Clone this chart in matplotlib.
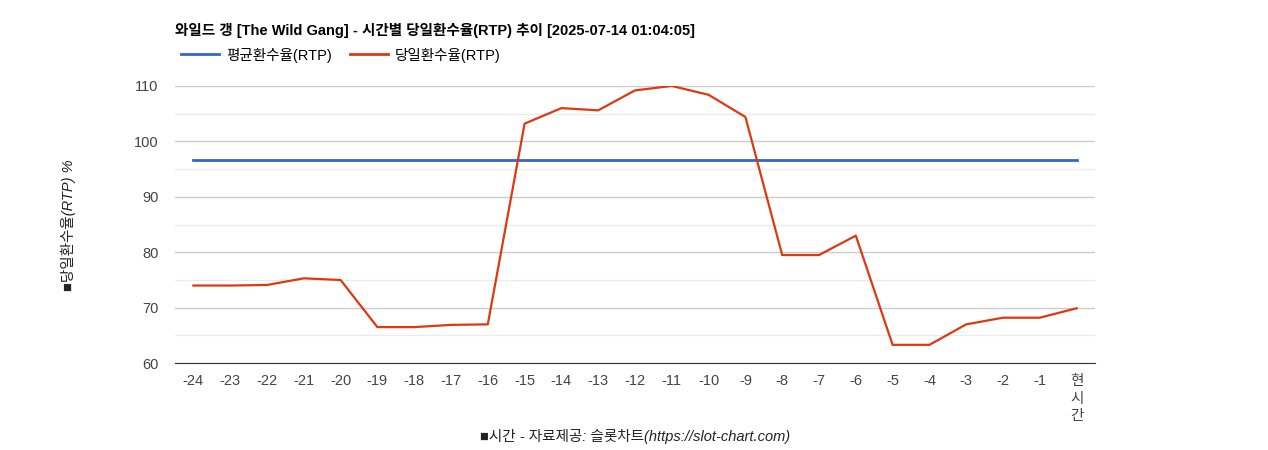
import matplotlib
matplotlib.use("Agg")
import matplotlib.pyplot as plt
from matplotlib.lines import Line2D
from matplotlib import font_manager as fm

cjk = [f.name for f in fm.fontManager.ttflist if 'CJK' in f.name]
pref = [n for n in ['Noto Sans CJK KR', 'Noto Sans CJK SC', 'Noto Sans CJK JP', 'Noto Sans CJK TC'] if n in cjk] + cjk
plt.rcParams['font.family'] = ['Liberation Sans'] + pref[:1] + ['DejaVu Sans']

labels = [str(i) for i in range(-24, 0)] + ["현\n시\n간"]
daily = [74.0, 74.0, 74.1, 75.3, 75.0, 66.5, 66.5, 66.9, 67.0, 103.2, 106.0, 105.6,
         109.2, 110.0, 108.4, 104.4, 79.5, 79.5, 83.0, 63.3, 63.3, 67.0, 68.2, 68.2, 69.9]
avg = [96.6] * 25

fig = plt.figure(figsize=(12.68, 4.5), dpi=100)
ax = fig.add_axes([0.138, 0.193, 0.7256, 0.616])
x = list(range(len(labels)))
ax.plot(x, avg, color='#3366cc', lw=2)
ax.plot(x, daily, color='#dc3912', lw=1.6)
ax.set_xlim(-0.5, len(labels) - 0.5)
ax.set_ylim(60, 110)
ax.set_yticks([60, 70, 80, 90, 100, 110])
ax.set_yticks([65, 75, 85, 95, 105], minor=True)
ax.grid(axis='y', which='major', color='#cccccc', lw=1)
ax.grid(axis='y', which='minor', color='#ebebeb', lw=1)
ax.set_axisbelow(True)
ax.set_xticks(x)
ax.set_xticklabels(labels, fontsize=10.5, color='#222222', linespacing=1.3, va='top')
ax.tick_params(axis='both', which='both', length=0, labelsize=10.5, colors='#444444')
ax.tick_params(axis='x', pad=8)
ax.tick_params(axis='y', pad=12)
for s in ax.spines.values():
    s.set_visible(False)
ax.spines['bottom'].set_visible(True)
ax.spines['bottom'].set_color('#333333')

fig.text(175/1268, 1-30/450, "와일드 갱 [The Wild Gang] - 시간별 당일환수율(RTP) 추이 [2025-07-14 01:04:05]",
         fontsize=10.5, fontweight='bold', va='center', ha='left')
handles = [Line2D([], [], color='#3366cc', lw=2), Line2D([], [], color='#dc3912', lw=2)]
fig.legend(handles, ["평균환수율(RTP)", "당일환수율(RTP)"], loc='center left',
           bbox_to_anchor=(168/1268, 1-55/450), ncol=2, frameon=False, fontsize=10.5,
           handlelength=2.6, columnspacing=1.2, handletextpad=0.5)
fig.text(68/1268, 1-225/450, "■당일환수율(RTP) %", rotation=90, style='italic',
         fontsize=10.5, va='center', ha='center', color='#222222')
fig.text(635/1268, 1-437/450, "■시간 - 자료제공: 슬롯차트(https://slot-chart.com)", style='italic',
         fontsize=10.5, va='center', ha='center', color='#222222')
fig.savefig("out.png", dpi=100)
